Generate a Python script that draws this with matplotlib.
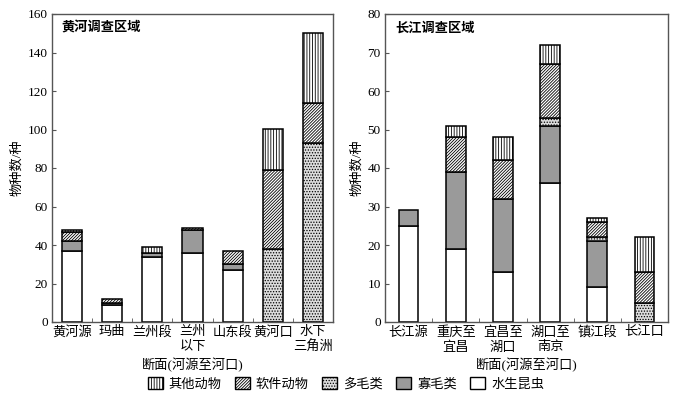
import matplotlib
matplotlib.use("Agg")
import matplotlib.pyplot as plt
from matplotlib.patches import Patch
import numpy as np

plt.rcParams['font.family'] = ['Liberation Serif', 'Noto Sans CJK SC', 'DejaVu Sans']
plt.rcParams['hatch.linewidth'] = 0.6
plt.rcParams['font.size'] = 9

series_names = ['其他动物', '软件动物', '多毛类', '寡毛类', '水生昆虫']

# Yellow River
hh_cats = ['黄河源', '玛曲', '兰州段', '兰州\n以下', '山东段', '黄河口', '水下\n三角洲']
hh_insect = [37, 9, 34, 36, 27, 0, 0]
hh_oligo = [5, 1, 2, 12, 3, 0, 0]
hh_poly = [0, 0, 0, 0, 0, 38, 93]
hh_mollusc = [5, 2, 0, 1, 7, 41, 21]
hh_other = [1, 0, 3, 0, 0, 21, 36]

# Yangtze River
cj_cats = ['长江源', '重庆至\n宜昌', '宜昌至\n湖口', '湖口至\n南京', '镇江段', '长江口']
cj_insect = [25, 19, 13, 36, 9, 0]
cj_oligo = [4, 20, 19, 15, 12, 0]
cj_poly = [0, 0, 0, 2, 1, 5]
cj_mollusc = [0, 9, 10, 14, 4, 8]
cj_other = [0, 3, 6, 5, 1, 9]

styles = {
    '水生昆虫': dict(facecolor='white', hatch=None),
    '寡毛类': dict(facecolor='#9a9a9a', hatch=None),
    '多毛类': dict(facecolor='#dcdcdc', hatch='......'),
    '软件动物': dict(facecolor='white', hatch='/' * 11),
    '其他动物': dict(facecolor='white', hatch='|' * 6),
}

fig = plt.figure(figsize=(6.75, 3.97), dpi=100)
ax1 = fig.add_axes([52/675, 75/397, 281/675, 308/397])
ax2 = fig.add_axes([385/675, 75/397, 283/675, 308/397])


def draw(ax, cats, insect, oligo, poly, mollusc, other, ymax, yticks, title, width):
    x = np.arange(len(cats))
    bottom = np.zeros(len(cats))
    for name, vals in [('水生昆虫', insect), ('寡毛类', oligo), ('多毛类', poly),
                       ('软件动物', mollusc), ('其他动物', other)]:
        vals = np.array(vals, dtype=float)
        mask = vals > 0
        st = styles[name]
        ax.bar(x[mask], vals[mask], width, bottom=bottom[mask], facecolor=st['facecolor'],
               hatch=st['hatch'], edgecolor='black', linewidth=1.1, zorder=2)
        bottom += vals
    ax.set_xlim(-0.5, len(cats) - 0.5)
    ax.set_ylim(0, ymax)
    ax.set_yticks(yticks)
    ax.set_xticks(x)
    ax.set_xticklabels(cats, linespacing=1.3)
    ax.set_xticks(np.arange(len(cats) - 1) + 0.5, minor=True)
    ax.tick_params(axis='x', which='major', length=0, pad=3, labelsize=9.5)
    ax.tick_params(axis='x', which='minor', direction='in', length=3, color='#555555')
    ax.tick_params(axis='y', direction='in', length=3, labelsize=9.5, color='#555555', pad=3)
    for s in ax.spines.values():
        s.set_color('#555555')
        s.set_linewidth(1.0)
    ax.set_ylabel('物种数/种', fontsize=9.5, labelpad=3)
    ax.set_xlabel('断面(河源至河口)', fontsize=9.5, labelpad=3)
    ax.text(0.035, 0.975, title, transform=ax.transAxes, ha='left', va='top',
            fontsize=9.5, fontweight='bold')


draw(ax1, hh_cats, hh_insect, hh_oligo, hh_poly, hh_mollusc, hh_other,
     160, range(0, 161, 20), '黄河调查区域', 0.5)
draw(ax2, cj_cats, cj_insect, cj_oligo, cj_poly, cj_mollusc, cj_other,
     80, range(0, 81, 10), '长江调查区域', 0.42)

handles = [Patch(facecolor=styles[n]['facecolor'], hatch=styles[n]['hatch'],
                 edgecolor='black', linewidth=1.0, label=n) for n in series_names]
fig.legend(handles=handles, loc='center', bbox_to_anchor=(346/675, 1 - 384/397),
           ncol=5, frameon=False, fontsize=9.5, handlelength=1.15, handleheight=0.95,
           columnspacing=1.0, handletextpad=0.45, borderpad=0.2)

fig.savefig('out.png', dpi=100)
